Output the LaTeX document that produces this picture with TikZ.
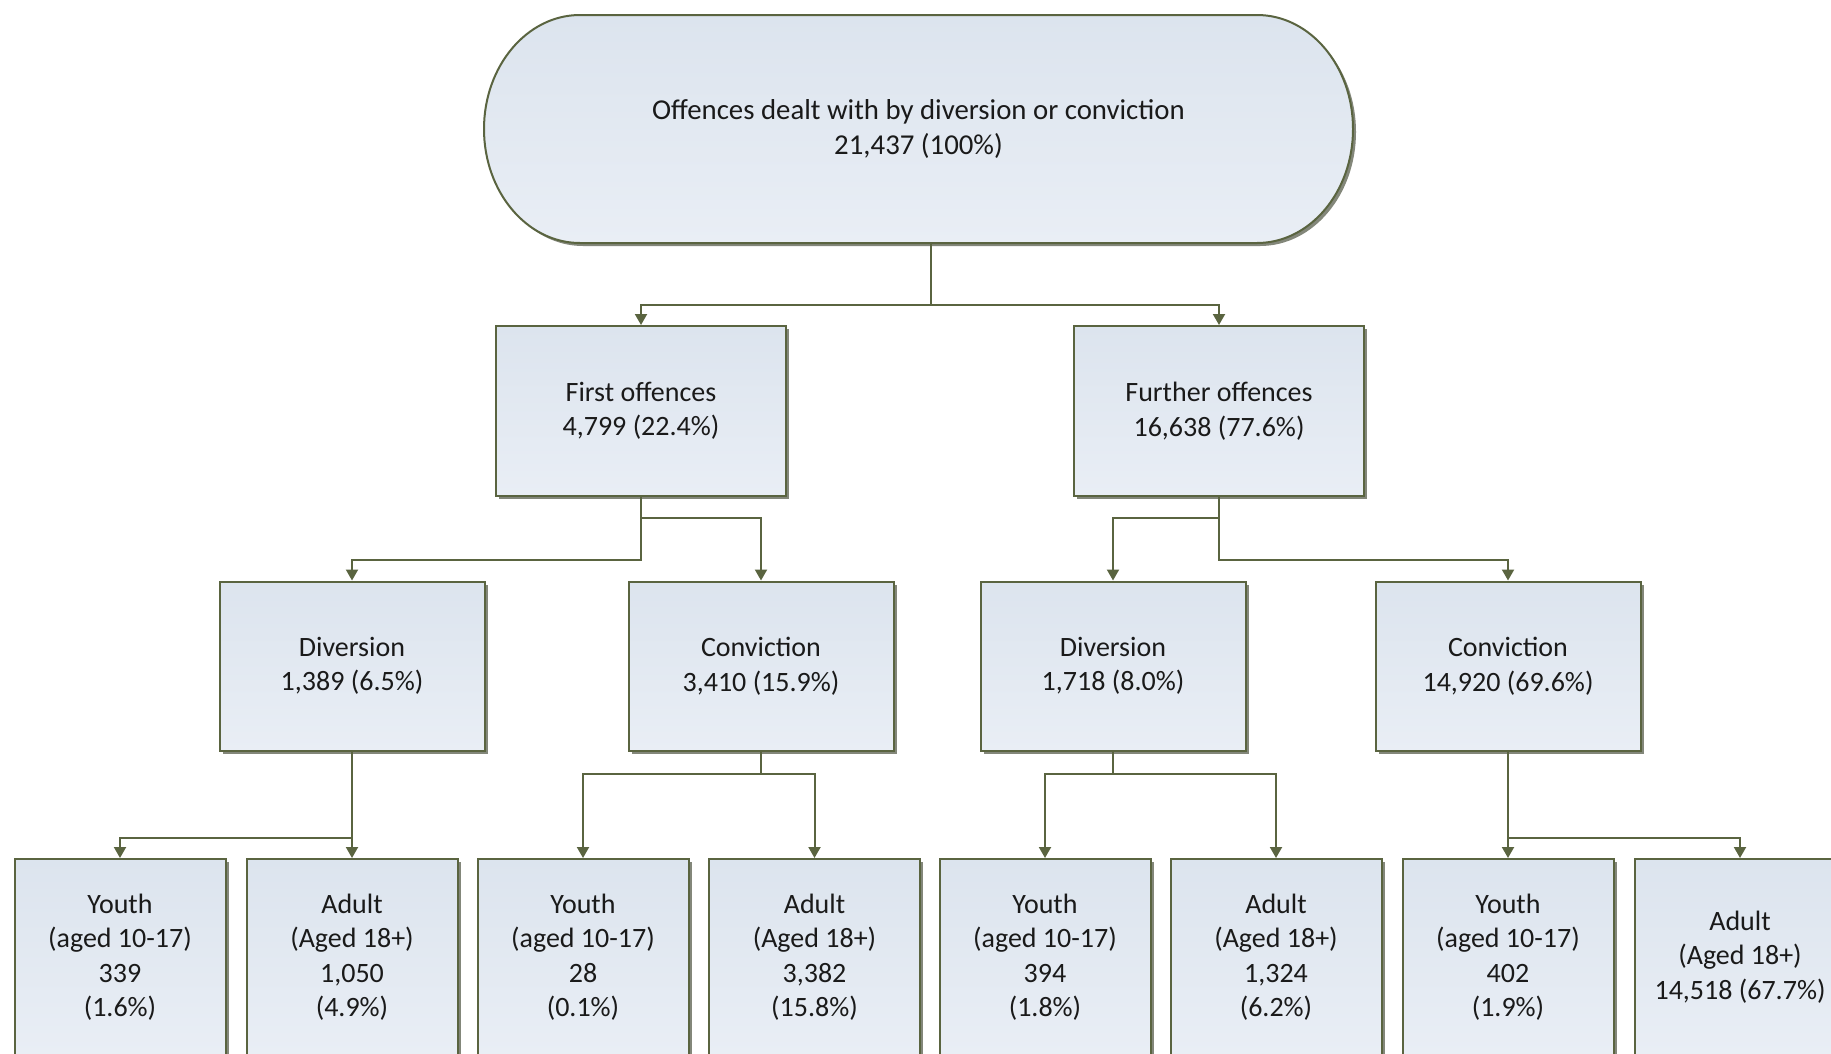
\documentclass[tikz,border=0pt]{standalone}
\usepackage{fontspec}
\setmainfont{Carlito}
\usetikzlibrary{arrows.meta,shadows,calc}
\definecolor{bord}{HTML}{5A6440}
\definecolor{fillA}{HTML}{DCE4EE}
\definecolor{fillB}{HTML}{E9EEF5}
\definecolor{txt}{HTML}{1A1A1A}
\definecolor{shad}{HTML}{83877A}
\begin{document}
\begin{tikzpicture}[x=1pt,y=1pt,
  lbl/.style={align=center, text=txt, font=\fontsize{28}{34.5}\selectfont, inner sep=0pt},
  box/.style={lbl, draw=bord, line width=2pt, top color=fillA, bottom color=fillB,
    drop shadow={shadow xshift=3pt, shadow yshift=-3pt, fill=shad, opacity=1}},
  lvlone/.style={box, minimum width=290pt, minimum height=170pt},
  lvltwo/.style={box, minimum width=265pt, minimum height=169pt},
  lvlthree/.style={box, minimum width=211pt, minimum height=196pt},
  link/.style={draw=bord, line width=2pt},
  conn/.style={link, -{Triangle[width=12pt,length=11pt]}}
]
\clip (0,0) rectangle (1831,-1053);
\fill[white] (0,0) rectangle (1831,-1053);

% top terminator shape
\path[draw=bord, line width=2pt, top color=fillA, bottom color=fillB,
  drop shadow={shadow xshift=3pt, shadow yshift=-3pt, fill=shad, opacity=1}]
  (580,-15) -- (1257,-15) arc[start angle=90, end angle=-90, x radius=96, y radius=114]
  -- (580,-243) arc[start angle=270, end angle=90, x radius=96, y radius=114] -- cycle;
\node[lbl, font=\fontsize{28.8}{35}\selectfont, minimum width=869pt, minimum height=228pt] (top) at (918.5,-129)
  {Offences dealt with by diversion or conviction\\21,437 (100\%)};

% level 1
\node[lvlone] (first) at (641,-411) {First offences\\4,799 (22.4\%)};
\node[lvlone] (further) at (1219,-411) {Further offences\\16,638 (77.6\%)};

% level 2
\node[lvltwo] (div1) at (352,-666) {Diversion\\1,389 (6.5\%)};
\node[lvltwo] (conv1) at (761,-666) {Conviction\\3,410 (15.9\%)};
\node[lvltwo] (div2) at (1113,-666) {Diversion\\1,718 (8.0\%)};
\node[lvltwo] (conv2) at (1508,-666) {Conviction\\14,920 (69.6\%)};

% level 3
\node[lvlthree] (y1) at (120,-957) {Youth\\(aged 10-17)\\339\\(1.6\%)};
\node[lvlthree] (a1) at (352,-957) {Adult\\(Aged 18+)\\1,050\\(4.9\%)};
\node[lvlthree] (y2) at (583,-957) {Youth\\(aged 10-17)\\28\\(0.1\%)};
\node[lvlthree] (a2) at (814.5,-957) {Adult\\(Aged 18+)\\3,382\\(15.8\%)};
\node[lvlthree] (y3) at (1045,-957) {Youth\\(aged 10-17)\\394\\(1.8\%)};
\node[lvlthree] (a3) at (1276,-957) {Adult\\(Aged 18+)\\1,324\\(6.2\%)};
\node[lvlthree] (y4) at (1508,-957) {Youth\\(aged 10-17)\\402\\(1.9\%)};
\node[lvlthree] (a4) at (1740,-957) {Adult\\(Aged 18+)\\14,518 (67.7\%)};

% connectors
\coordinate (j0) at (931,-305);
\draw[link] (j0 |- top.south) -- (j0);
\draw[conn] (j0) -| (first.north);
\draw[conn] (j0) -| (further.north);

\draw[conn] (first.south) -- ++(0,-21) -| (conv1.north);
\draw[conn] (first.south) -- ++(0,-63) -| (div1.north);
\draw[conn] (further.south) -- ++(0,-21) -| (div2.north);
\draw[conn] (further.south) -- ++(0,-63) -| (conv2.north);

\draw[conn] (div1.south) -- (a1.north);
\draw[conn] (div1.south) -- ++(0,-86) -| (y1.north);
\draw[conn] (conv1.south) -- ++(0,-22) -| (y2.north);
\draw[conn] (conv1.south) -- ++(0,-22) -| (a2.north);
\draw[conn] (div2.south) -- ++(0,-22) -| (y3.north);
\draw[conn] (div2.south) -- ++(0,-22) -| (a3.north);
\draw[conn] (conv2.south) -- (y4.north);
\draw[conn] (conv2.south) -- ++(0,-86) -| (a4.north);
\end{tikzpicture}
\end{document}
